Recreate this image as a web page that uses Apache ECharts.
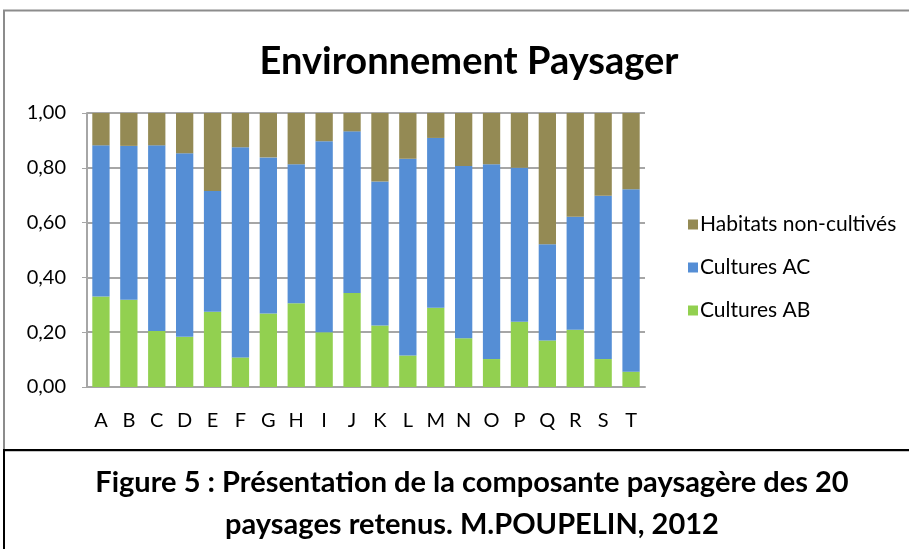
<!DOCTYPE html>
<html>
<head>
<meta charset="utf-8">
<script src="https://cdn.jsdelivr.net/npm/echarts@6/dist/echarts.min.js"></script>
<style>
  html, body { margin: 0; padding: 0; background: #fff; }
  #chart { width: 909px; height: 549px; }
</style>
</head>
<body>
<div id="chart"></div>
<script>
  // paysages A..T
  var categories = ['A', 'B', 'C', 'D', 'E', 'F', 'G', 'H', 'I', 'J', 'K', 'L', 'M', 'N', 'O', 'P', 'Q', 'R', 'S', 'T']
  var culturesAB = [0.330, 0.318, 0.204, 0.183, 0.275, 0.108, 0.268, 0.306, 0.200, 0.343, 0.224, 0.115, 0.289, 0.178, 0.102, 0.238, 0.170, 0.209, 0.102, 0.056]
  var culturesAC = [0.552, 0.562, 0.678, 0.670, 0.440, 0.767, 0.570, 0.507, 0.697, 0.590, 0.526, 0.718, 0.620, 0.629, 0.711, 0.562, 0.351, 0.412, 0.596, 0.666]
  var habitats = [0.118, 0.120, 0.118, 0.147, 0.285, 0.125, 0.162, 0.187, 0.103, 0.067, 0.250, 0.167, 0.091, 0.193, 0.187, 0.200, 0.479, 0.379, 0.302, 0.278]
  var yTicks = [0, 0.2, 0.4, 0.6, 0.8, 1.0]

  var font = 'Lato, "Open Sans", sans-serif'

  var chart = echarts.init(document.getElementById('chart'))
  var option = {
    animation: false,
    backgroundColor: '#fff',
    title: [
      {
        text: 'Environnement Paysager',
        left: 464,
        top: 38,
        textAlign: 'center',
        textStyle: { fontFamily: font, fontSize: 38, fontWeight: 'bold', color: '#000' }
      },
      {
        text: 'Figure 5 : Présentation de la composante paysagère des 20',
        left: 467,
        top: 463,
        textAlign: 'center',
        textStyle: { fontFamily: font, fontSize: 29, fontWeight: 'bold', color: '#000' }
      },
      {
        text: 'paysages retenus. M.POUPELIN, 2012',
        left: 467,
        top: 505,
        textAlign: 'center',
        textStyle: { fontFamily: font, fontSize: 29, fontWeight: 'bold', color: '#000' }
      }
    ],
    graphic: [
      {
        type: 'rect',
        shape: { x: 4, y: 10.5, width: 920, height: 440 },
        style: { fill: 'none', stroke: '#8c8c8c', lineWidth: 2 },
        z: -1
      },
      {
        type: 'rect',
        shape: { x: 4, y: 450, width: 920, height: 110 },
        style: { fill: 'none', stroke: '#000', lineWidth: 2 },
        z: -1
      }
    ],
    legend: {
      orient: 'vertical',
      left: 683,
      top: 209,
      itemGap: 22,
      itemWidth: 10,
      itemHeight: 10,
      icon: 'rect',
      data: ['Habitats non-cultivés', 'Cultures AC', 'Cultures AB'],
      textStyle: { fontFamily: font, fontSize: 21, color: '#000', padding: [0, 0, 0, -3] }
    },
    grid: {
      left: 87,
      right: 264,
      top: 113,
      bottom: 162
    },
    xAxis: {
      type: 'category',
      data: categories,
      axisLine: { lineStyle: { color: '#a6a6a6', width: 2 } },
      axisTick: { show: false },
      axisLabel: { fontFamily: font, fontSize: 20, color: '#000', margin: 24 }
    },
    yAxis: {
      type: 'value',
      min: 0,
      max: 1,
      interval: 0.2,
      axisLine: { show: true, lineStyle: { color: '#a6a6a6', width: 2 } },
      axisTick: { show: true, length: 5, lineStyle: { color: '#a6a6a6' } },
      splitLine: { lineStyle: { color: '#a6a6a6', width: 2 } },
      axisLabel: {
        fontFamily: font,
        fontSize: 20,
        color: '#000',
        margin: 21,
        formatter: function (v) { return v.toFixed(2).replace('.', ',') }
      }
    },
    series: [
      {
        name: 'Cultures AB',
        type: 'bar',
        stack: 'total',
        barCategoryGap: '38%',
        data: culturesAB,
        itemStyle: { color: '#92d050' }
      },
      {
        name: 'Cultures AC',
        type: 'bar',
        stack: 'total',
        data: culturesAC,
        itemStyle: { color: '#558ed5' }
      },
      {
        name: 'Habitats non-cultivés',
        type: 'bar',
        stack: 'total',
        data: habitats,
        itemStyle: { color: '#948a54' }
      }
    ]
  }
  chart.setOption(option)
  window.addEventListener('resize', () => {
    chart.resize()
  })
</script>
</body>
</html>
